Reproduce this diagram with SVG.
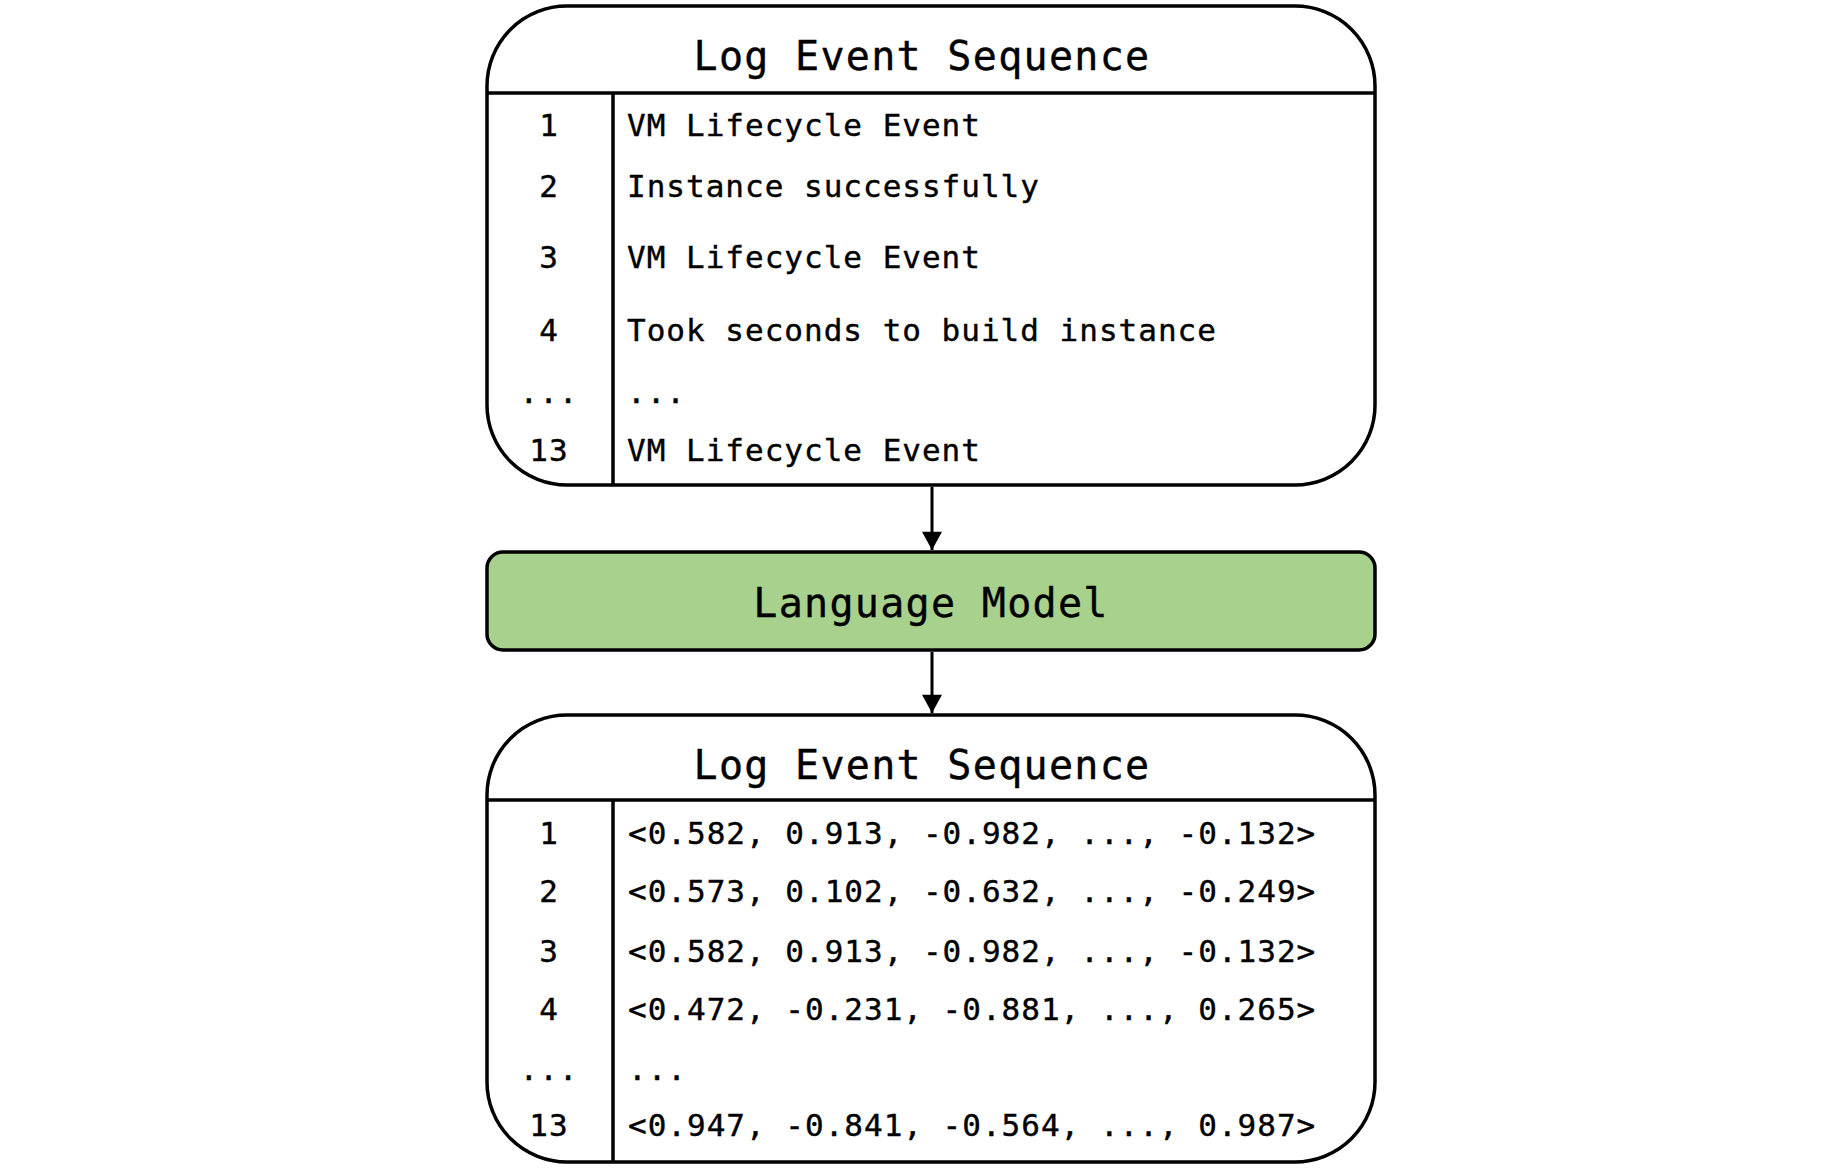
<svg xmlns="http://www.w3.org/2000/svg" width="1821" height="1171" viewBox="0 0 1821 1171">
<style>
.box{fill:#ffffff;stroke:#000;stroke-width:3.5}
.line{stroke:#000;stroke-width:3.5;fill:none}
.title{font-family:"DejaVu Sans Mono","Liberation Mono",monospace;font-size:40px;letter-spacing:1.3px;fill:#000;stroke:#000;stroke-width:0.4;text-anchor:middle}
.num{font-family:"DejaVu Sans Mono","Liberation Mono",monospace;font-size:31px;letter-spacing:1px;fill:#000;stroke:#000;stroke-width:0.4;text-anchor:middle}
.row{font-family:"DejaVu Sans Mono","Liberation Mono",monospace;font-size:31px;letter-spacing:1px;fill:#000;stroke:#000;stroke-width:0.4}
.conn{stroke:#000;stroke-width:3;fill:none}
</style>
<defs>
<marker id="arrow" markerWidth="22" markerHeight="20" refX="20" refY="11" orient="auto" markerUnits="userSpaceOnUse" viewBox="0 0 20 22">
<path d="M0,0 L20,11 L0,22 Z" fill="#000"/>
</marker>
</defs>
<rect width="1821" height="1171" fill="#fff"/>
<g id="input-sequence">
<rect class="box" x="487" y="6" width="888" height="479" rx="80" ry="80"/>
<line class="line" x1="487" y1="93" x2="1375" y2="93"/>
<line class="line" x1="613" y1="93" x2="613" y2="485"/>
<text class="title" x="922" y="70">Log Event Sequence</text>
<text class="num" x="549" y="136">1</text>
<text class="num" x="549" y="197">2</text>
<text class="num" x="549" y="268">3</text>
<text class="num" x="549" y="341">4</text>
<text class="num" x="549" y="403">...</text>
<text class="num" x="549" y="461">13</text>
<text class="row" x="627" y="136">VM Lifecycle Event</text>
<text class="row" x="627" y="197">Instance successfully</text>
<text class="row" x="627" y="268">VM Lifecycle Event</text>
<text class="row" x="627" y="341">Took seconds to build instance</text>
<text class="row" x="627" y="403">...</text>
<text class="row" x="627" y="461">VM Lifecycle Event</text>
</g>
<g id="language-model">
<rect x="487" y="552" width="888" height="98" rx="16" ry="16" fill="#a9d18e" stroke="#000" stroke-width="3.5"/>
<text class="title" x="931" y="617">Language Model</text>
</g>
<g id="output-sequence">
<rect class="box" x="487" y="715" width="888" height="447" rx="80" ry="80"/>
<line class="line" x1="487" y1="800" x2="1375" y2="800"/>
<line class="line" x1="613" y1="800" x2="613" y2="1162"/>
<text class="title" x="922" y="779">Log Event Sequence</text>
<text class="num" x="549" y="844">1</text>
<text class="num" x="549" y="902">2</text>
<text class="num" x="549" y="962">3</text>
<text class="num" x="549" y="1020">4</text>
<text class="num" x="549" y="1080">...</text>
<text class="num" x="549" y="1136">13</text>
<text class="row" x="628" y="844">&lt;0.582, 0.913, -0.982, ..., -0.132&gt;</text>
<text class="row" x="628" y="902">&lt;0.573, 0.102, -0.632, ..., -0.249&gt;</text>
<text class="row" x="628" y="962">&lt;0.582, 0.913, -0.982, ..., -0.132&gt;</text>
<text class="row" x="628" y="1020">&lt;0.472, -0.231, -0.881, ..., 0.265&gt;</text>
<text class="row" x="628" y="1080">...</text>
<text class="row" x="628" y="1136">&lt;0.947, -0.841, -0.564, ..., 0.987&gt;</text>
</g>
<g id="connectors">
<line class="conn" x1="932" y1="487" x2="932" y2="550" marker-end="url(#arrow)"/>
<line class="conn" x1="932" y1="652" x2="932" y2="713" marker-end="url(#arrow)"/>
</g>
</svg>
